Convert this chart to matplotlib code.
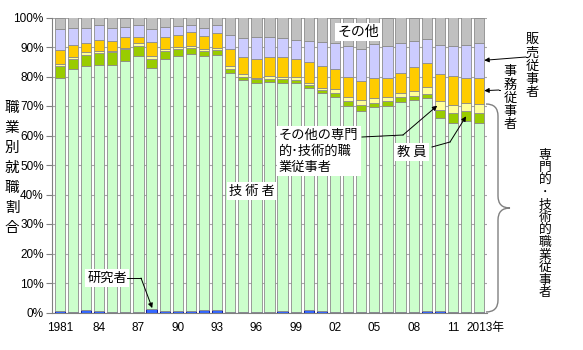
import matplotlib
matplotlib.use("Agg")
import numpy as np
import matplotlib.pyplot as plt
from matplotlib.path import Path
from matplotlib.patches import PathPatch
from matplotlib.lines import Line2D
from matplotlib.transforms import Affine2D, ScaledTranslation

plt.rcParams['font.family'] = ['Liberation Sans', 'Noto Sans CJK JP']
JP = 'Noto Sans CJK JP'

years = list(range(1981, 2014))
xlabels = ['1981', '84', '87', '90', '93', '96', '99', '02', '05', '08', '11', '2013年']
xlabel_pos = [0, 3, 6, 9, 12, 15, 18, 21, 24, 27, 30, 32]

# shares in %, bottom to top
research = [0.4, 0.3, 0.7, 0.4, 0.1, 0.1, 0.3, 1.2, 0.4, 0.6, 0.4, 0.9, 0.9, 0.3, 0.2, 0.2, 0.3,
            0.5, 0.3, 0.7, 0.4, 0.3, 0.3, 0.3, 0.3, 0.3, 0.3, 0.3, 0.4, 0.4, 0.3, 0.3, 0.3]
engineers = [79.1, 82.1, 82.8, 83.5, 83.7, 85.0, 86.5, 81.7, 85.4, 86.3, 87.3, 86.2, 86.3, 81.0,
             78.6, 77.6, 77.9, 77.4, 77.5, 75.5, 74.1, 72.8, 69.7, 68.0, 69.3, 69.7, 71.2, 71.6,
             72.2, 65.6, 64.0, 64.5, 64.0]
teachers = [4.0, 3.4, 3.9, 3.9, 4.4, 4.1, 3.5, 3.1, 2.7, 2.4, 1.9, 1.5, 1.8, 1.3, 1.2, 1.2, 1.1,
            1.1, 1.0, 0.9, 1.0, 1.4, 1.6, 1.9, 1.5, 1.6, 1.5, 1.5, 1.5, 2.6, 3.3, 3.4, 3.3]
other_prof = [0.6, 0.7, 0.8, 0.8, 0.6, 0.5, 0.9, 0.9, 0.7, 0.7, 0.7, 0.6, 0.7, 0.9, 0.7, 0.6, 0.8,
              0.9, 0.9, 0.7, 0.7, 1.1, 1.5, 1.8, 1.5, 1.5, 1.5, 1.6, 2.3, 3.0, 2.9, 2.9, 3.2]
clerical = [4.8, 4.1, 3.1, 3.7, 3.4, 3.6, 2.2, 4.7, 4.1, 3.9, 4.8, 4.5, 5.1, 5.9, 6.0, 6.4, 6.4,
            6.8, 6.4, 7.1, 7.5, 7.1, 6.7, 6.4, 6.9, 6.4, 6.7, 8.2, 8.2, 9.4, 9.8, 8.3, 8.8]
sales = [7.3, 5.9, 5.3, 5.3, 4.3, 3.5, 4.2, 4.6, 3.4, 3.2, 2.5, 2.6, 2.8, 4.5, 6.4, 7.4, 6.8,
         6.4, 6.3, 7.1, 8.0, 8.8, 10.5, 11.0, 11.6, 10.9, 10.2, 8.8, 8.2, 9.8, 10.2, 11.4, 11.8]
others = [3.8, 3.5, 3.4, 2.4, 3.5, 3.2, 2.4, 3.8, 3.3, 2.9, 2.4, 3.7, 2.4, 6.1, 6.9, 6.6, 6.7,
          6.9, 7.6, 8.0, 8.3, 8.5, 9.7, 10.6, 8.9, 9.6, 8.6, 8.0, 7.2, 9.2, 9.5, 9.2, 8.6]

series = [research, engineers, teachers, other_prof, clerical, sales, others]
colors = ['#3366ff', '#ccffcc', '#99cc00', '#ffff99', '#ffcc00', '#ccccff', '#c0c0c0']

fig = plt.figure(figsize=(5.83, 3.5), dpi=100)
ax = fig.add_axes([52/583, 1-312.5/350, (487-52)/583, 295/350])
# figure pixel coords, origin top-left
pix = Affine2D().scale(1/100, -1/100).translate(0, 3.5) + fig.dpi_scale_trans

x = np.arange(len(years))
w = 0.78
bottom = np.zeros(len(years))
for k, (vals, c) in enumerate(zip(series, colors)):
    ec = '#000080' if k == 0 else '#8c8c8c'
    ax.bar(x, vals, w, bottom=bottom, color=c, edgecolor=ec, linewidth=0.6, zorder=2)
    bottom += np.array(vals)
cum = np.cumsum(np.array(series), axis=0)

ax.set_xlim(-0.6, 32.6)
ax.set_ylim(0, 100)
ax.set_yticks(range(0, 101, 10))
ax.set_yticklabels([f'{v}%' for v in range(0, 101, 10)], fontsize=8.5)
ax.set_xticks(xlabel_pos)
ax.set_xticklabels(xlabels, fontsize=8.5)
ax.tick_params(axis='x', length=0, pad=7)
ax.tick_params(axis='y', length=4, color='#808080', pad=2)
ax.xaxis.get_ticklabels()[-1].set_transform(
    ax.xaxis.get_ticklabels()[-1].get_transform() + ScaledTranslation(6/100, 0, fig.dpi_scale_trans))
ax.yaxis.grid(True, color='#a8a8a8', linewidth=0.8)
ax.set_axisbelow(True)
for s in ['top', 'right']:
    ax.spines[s].set_visible(False)
ax.spines['left'].set_color('#808080')
ax.spines['bottom'].set_color('#808080')


def vtext(xp, y0, step, s, size=9.5):
    # one character per line, stacked downward from y0 (pixels)
    for i, ch in enumerate(s):
        y = y0 + step * (i + 0.5)
        fig.text(xp/583, 1-y/350, ch, ha='center', va='center', fontsize=size, family=JP)


vtext(12, 98, 20, '職業別就職割合', 10.5)
vtext(532, 33, 13.3, '販売従事者')
vtext(510, 65, 13.3, '事務従事者')
vtext(545, 149, 12.5, '専門的･技術的職業従事者', 9.2)

box = dict(facecolor='white', edgecolor='none', pad=1.5)
ax.text(358, 32, 'その他', transform=pix, ha='center', va='center', fontsize=10, family=JP, bbox=box, zorder=5)
ax.text(252, 191, '技 術 者', transform=pix, ha='center', va='center', fontsize=9.5, family=JP, bbox=box, zorder=5)
ax.text(279, 151, 'その他の専門\n的･技術的職\n業従事者', transform=pix, ha='left', va='center',
        fontsize=9.5, family=JP, linespacing=1.3, bbox=box, zorder=5)
ax.text(412, 152, '教 員', transform=pix, ha='center', va='center', fontsize=9.5, family=JP, bbox=box, zorder=5)
ax.text(107, 278, '研究者', transform=pix, ha='center', va='center', fontsize=9.5, family=JP, bbox=box, zorder=5)

arrow = dict(arrowstyle='-|>', color='black', lw=0.7, mutation_scale=7, shrinkA=0, shrinkB=0)


def leader(points, target):
    xs, ys = zip(*points)
    fig.add_artist(Line2D(xs, ys, transform=pix, color='black', lw=0.7))
    ax.annotate('', xy=target, xycoords='data', xytext=points[-1], textcoords=pix,
                arrowprops=arrow, annotation_clip=False, zorder=6)


leader([(362, 137), (403, 135)], (28.8, cum[2, 29] + other_prof[29] / 2))
leader([(432, 147), (450, 142)], (31.0, cum[1, 31] + teachers[31] / 2))
leader([(127, 278), (141, 278)], (7.05, research[7] + 0.3))
leader([(527, 57), (526, 57)], (32 + w/2, cum[4, 32] + sales[32] / 2))
leader([(500, 90), (499, 90)], (32 + w/2, cum[3, 32] + clerical[32] / 2))

# brace for professional/technical group
verts = [(486, 104), (498, 104), (498, 116), (498, 196), (498, 208), (510, 208),
         (498, 208), (498, 220), (498, 300), (498, 312), (486, 312)]
codes = [Path.MOVETO, Path.CURVE3, Path.CURVE3, Path.LINETO, Path.CURVE3, Path.CURVE3,
         Path.CURVE3, Path.CURVE3, Path.LINETO, Path.CURVE3, Path.CURVE3]
fig.add_artist(PathPatch(Path(verts, codes), transform=pix, facecolor='none',
                         edgecolor='#808080', lw=1))

fig.savefig('out.png', dpi=100)
